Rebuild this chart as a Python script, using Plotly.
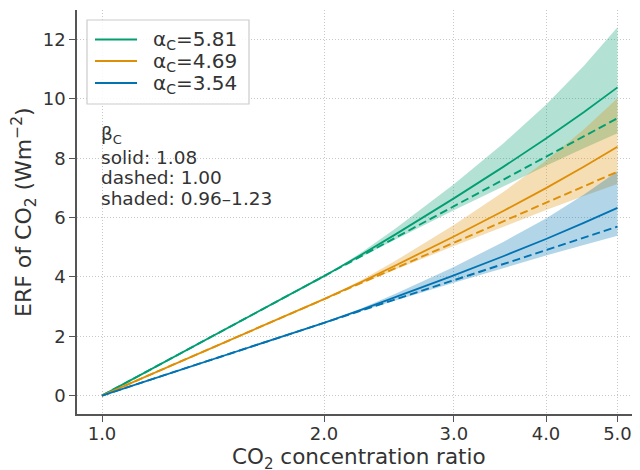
import plotly.graph_objects as go

# CO2 concentration ratio
ratio = [1.0, 2.0, 2.25, 2.5, 3.0, 3.5, 4.0, 4.5, 5.0]
band_ratio = [2.0, 2.25, 2.5, 3.0, 3.5, 4.0, 4.5, 5.0]

series_names = ["α<sub>C</sub>=5.81", "α<sub>C</sub>=4.69", "α<sub>C</sub>=3.54"]
colors = ["#029E73", "#DE8F05", "#0173B2"]
fill_colors = ["rgba(2,158,115,0.30)", "rgba(222,143,5,0.30)", "rgba(1,115,178,0.30)"]

# beta_C = 1.08 (solid)
solid_green = [0.0, 4.027, 4.755, 5.436, 6.649, 7.711, 8.665, 9.555, 10.391]
solid_orange = [0.0, 3.251, 3.838, 4.387, 5.366, 6.224, 6.996, 7.713, 8.387]
solid_blue = [0.0, 2.454, 2.898, 3.312, 4.051, 4.698, 5.279, 5.821, 6.331]

# beta_C = 1.00 (dashed)
dashed_green = [0.0, 4.027, 4.711, 5.324, 6.383, 7.279, 8.054, 8.739, 9.351]
dashed_orange = [0.0, 3.251, 3.803, 4.297, 5.152, 5.875, 6.502, 7.054, 7.548]
dashed_blue = [0.0, 2.454, 2.871, 3.244, 3.889, 4.435, 4.907, 5.324, 5.697]

# beta_C range 0.96-1.23 (shaded)
upper_green = [4.027, 4.830, 5.630, 7.123, 8.502, 9.804, 11.111, 12.417]
lower_green = [4.027, 4.688, 5.265, 6.246, 7.059, 7.748, 8.335, 8.842]
upper_orange = [3.251, 3.899, 4.544, 5.750, 6.862, 7.915, 8.968, 10.023]
lower_orange = [3.251, 3.784, 4.250, 5.042, 5.698, 6.255, 6.728, 7.137]
upper_blue = [2.454, 2.943, 3.431, 4.340, 5.180, 5.973, 6.769, 7.565]
lower_blue = [2.454, 2.857, 3.208, 3.806, 4.301, 4.721, 5.078, 5.387]

x_tick_vals = [1, 2, 3, 4, 5]
x_tick_text = ["1.0", "2.0", "3.0", "4.0", "5.0"]
y_tick_vals = [0, 2, 4, 6, 8, 10, 12]

note_lines = ["β<sub>C</sub>", "solid: 1.08", "dashed: 1.00", "shaded: 0.96–1.23"]

solids = [solid_green, solid_orange, solid_blue]
dasheds = [dashed_green, dashed_orange, dashed_blue]
uppers = [upper_green, upper_orange, upper_blue]
lowers = [lower_green, lower_orange, lower_blue]

fig = go.Figure()

for i in range(3):
    fig.add_trace(go.Scatter(x=band_ratio, y=lowers[i], mode="lines",
                             line=dict(width=0, color=colors[i]),
                             showlegend=False, hoverinfo="skip"))
    fig.add_trace(go.Scatter(x=band_ratio, y=uppers[i], mode="lines",
                             line=dict(width=0, color=colors[i]),
                             fill="tonexty", fillcolor=fill_colors[i],
                             showlegend=False, hoverinfo="skip"))

for i in range(3):
    fig.add_trace(go.Scatter(x=ratio, y=dasheds[i], mode="lines",
                             line=dict(color=colors[i], width=1.9, dash="8px,4px"),
                             showlegend=False))

for i in range(3):
    fig.add_trace(go.Scatter(x=ratio, y=solids[i], mode="lines",
                             line=dict(color=colors[i], width=1.8),
                             name=series_names[i], showlegend=False))

axis_color = "#555555"
text_color = "#333333"
grid_color = "#c8c8c8"

# page is offset by the 8px body margin; page-pixel layout targets below
OFF = 8
PL, PT, PR, PB = 77, 10, 640, 414      # plot area in page pixels
W, H = 640 - OFF, 470 - OFF
L, T = PL - OFF, PT - OFF
R = 0
B = H - T - (PB - PT)
plot_w = PR - PL
plot_h = PB - PT


def px(xp):
    return (xp - PL) / plot_w


def py(yp):
    return 1 - (yp - PT) / plot_h


fig.update_layout(
    width=W, height=H,
    margin=dict(l=L, r=R, t=T, b=B, autoexpand=False),
    paper_bgcolor="white", plot_bgcolor="white",
    font=dict(family="DejaVu Sans", color=text_color, size=18),
    showlegend=False,
    xaxis=dict(type="log", range=[-0.0339, 0.7295],
               tickvals=x_tick_vals, ticktext=x_tick_text,
               showgrid=True, gridcolor=grid_color, griddash="1px,2px", gridwidth=1,
               showline=True, linecolor=axis_color, linewidth=1.6,
               ticks="outside", ticklen=6, tickwidth=1.4, tickcolor=axis_color,
               tickfont=dict(size=18, color=text_color), ticklabelstandoff=-3,
               automargin=False, zeroline=False),
    yaxis=dict(range=[-0.62, 13.0],
               tickvals=y_tick_vals,
               showgrid=True, gridcolor=grid_color, griddash="1px,2px", gridwidth=1,
               showline=True, linecolor=axis_color, linewidth=1.6,
               ticks="outside", ticklen=6, tickwidth=1.4, tickcolor=axis_color,
               tickfont=dict(size=18, color=text_color),
               automargin=False, zeroline=False),
)

# legend box (drawn manually for matching spacing)
bx0, by0, bx1, by1 = px(87), py(20), px(249), py(104)
fig.add_shape(type="rect", xref="paper", yref="paper",
              x0=bx0, y0=by0, x1=bx1, y1=by1,
              line=dict(color="#cccccc", width=1.2), fillcolor="rgba(255,255,255,0.85)",
              layer="above")
legend_y = [39.5, 61, 83]
for i in range(3):
    fig.add_shape(type="line", xref="paper", yref="paper",
                  x0=px(95), x1=px(137), y0=py(legend_y[i]), y1=py(legend_y[i]),
                  line=dict(color=colors[i], width=2), layer="above")
    fig.add_annotation(xref="paper", yref="paper", x=px(151), y=py(legend_y[i] + 1),
                       xanchor="left", yanchor="middle", text=series_names[i],
                       showarrow=False, font=dict(size=20, color=text_color))

# axis titles
fig.add_annotation(
    xref="paper", yref="paper", x=0.5, y=0, xanchor="center", yanchor="top",
    yshift=-28, text="CO<sub>2</sub> concentration ratio", showarrow=False,
    font=dict(size=21.5, color=text_color),
)
fig.add_annotation(
    xref="paper", yref="paper", x=px(24), y=py(212),
    xanchor="center", yanchor="middle", textangle=-90,
    text="ERF of CO<sub>2</sub> (Wm<sup>−2</sup>)", showarrow=False,
    font=dict(size=22, color=text_color),
)

# beta note
note_y = [135, 157, 178, 198]
for txt, yy in zip(note_lines, note_y):
    fig.add_annotation(
        xref="paper", yref="paper", x=px(99), y=py(yy),
        xanchor="left", yanchor="middle", text=txt, showarrow=False,
        align="left", font=dict(size=18.5, color=text_color),
    )

fig.write_html("out.html")
